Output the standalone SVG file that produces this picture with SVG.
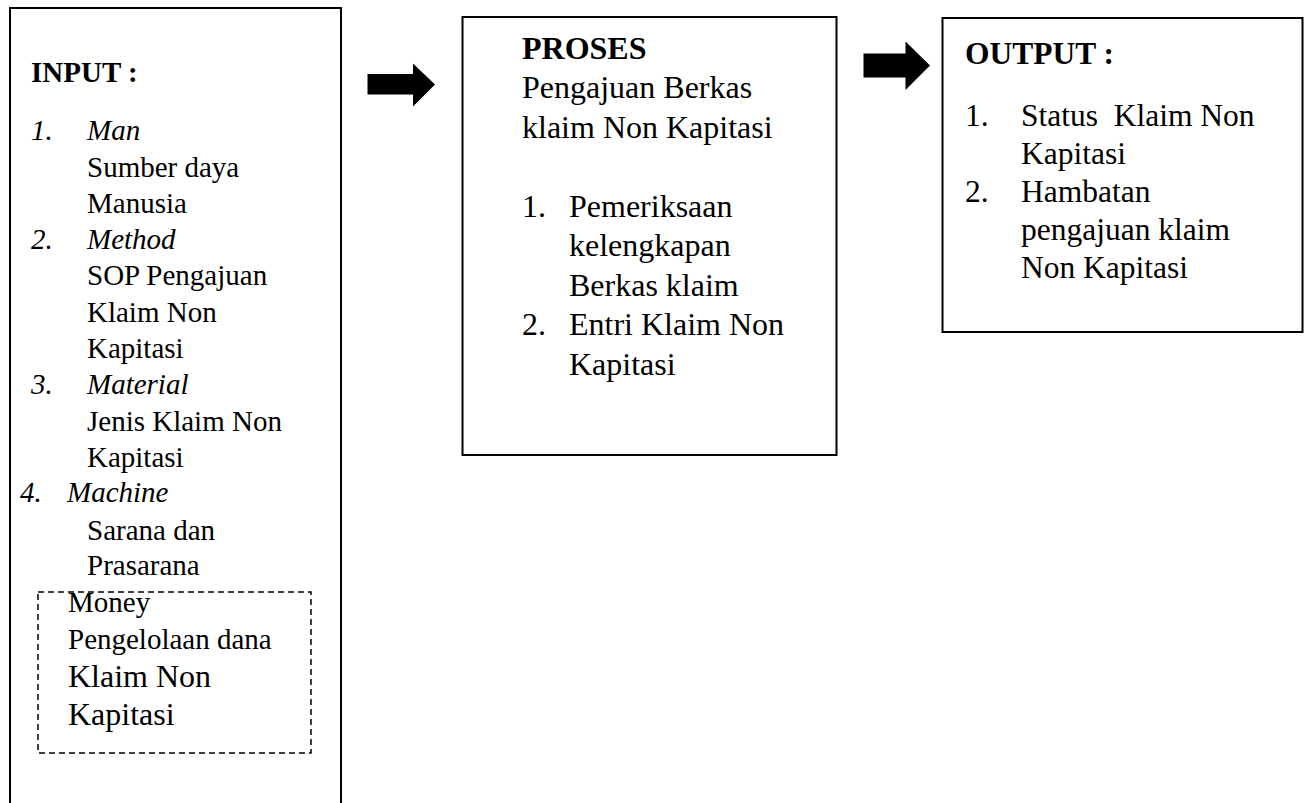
<svg xmlns="http://www.w3.org/2000/svg" width="1308" height="803" viewBox="0 0 1308 803">
<style>
text{font-family:"Liberation Serif","Times New Roman",serif;fill:#000;white-space:pre}
.s{font-size:29px}
.m{font-size:32px}
.o{font-size:31.5px}
.b{font-weight:bold}
.i{font-style:italic}
.box{fill:none;stroke:#000;stroke-width:2}
.dash{fill:none;stroke:#000;stroke-width:1.5;stroke-dasharray:6 4}
.arr{fill:#000;stroke:none}
</style>
<rect width="1308" height="803" fill="#fff"/>
<g id="input">
<path class="box" d="M10,810 V8 H341 V810"/>
<text class="s b" x="31" y="82">INPUT :</text>
<text class="s i" x="31" y="140">1.</text>
<text class="s i" x="87" y="140">Man</text>
<text class="s" x="87" y="176.5">Sumber daya</text>
<text class="s" x="87" y="212.5">Manusia</text>
<text class="s i" x="31" y="248.5">2.</text>
<text class="s i" x="87" y="248.5">Method</text>
<text class="s" x="87" y="285">SOP Pengajuan</text>
<text class="s" x="87" y="321.5">Klaim Non</text>
<text class="s" x="87" y="358">Kapitasi</text>
<text class="s i" x="31" y="394">3.</text>
<text class="s i" x="87" y="394">Material</text>
<text class="s" x="87" y="431">Jenis Klaim Non</text>
<text class="s" x="87" y="466.5">Kapitasi</text>
<text class="s i" x="20" y="502">4.</text>
<text class="s i" x="67" y="502">Machine</text>
<text class="s" x="87" y="540">Sarana dan</text>
<text class="s" x="87" y="575">Prasarana</text>
</g>
<g id="money">
<rect class="dash" x="38" y="592" width="273" height="161"/>
<text class="s" x="68" y="612">Money</text>
<text class="s" x="68" y="649">Pengelolaan dana</text>
<text class="m" x="68" y="687">Klaim Non</text>
<text class="m" x="68" y="725">Kapitasi</text>
</g>
<g id="proses">
<rect class="box" x="462.5" y="17" width="374" height="438"/>
<text class="m b" x="522" y="58.5">PROSES</text>
<text class="m" x="522" y="98">Pengajuan Berkas</text>
<text class="m" x="522" y="137.5">klaim Non Kapitasi</text>
<text class="m" x="522" y="216.5">1.</text>
<text class="m" x="569" y="216.5">Pemeriksaan</text>
<text class="m" x="569" y="256">kelengkapan</text>
<text class="m" x="569" y="295.5">Berkas klaim</text>
<text class="m" x="522" y="335">2.</text>
<text class="m" x="569" y="335">Entri Klaim Non</text>
<text class="m" x="569" y="374.5">Kapitasi</text>
</g>
<g id="output">
<rect class="box" x="942.5" y="18" width="360" height="314"/>
<text class="o b" x="965" y="63.5">OUTPUT :</text>
<text class="o" x="965" y="126">1.</text>
<text class="o" x="1021" y="126">Status  Klaim Non</text>
<text class="o" x="1021" y="164">Kapitasi</text>
<text class="o" x="965" y="202">2.</text>
<text class="o" x="1021" y="202">Hambatan</text>
<text class="o" x="1021" y="240">pengajuan klaim</text>
<text class="o" x="1021" y="278">Non Kapitasi</text>
</g>
<g id="connectors">
<polygon class="arr" points="367.5,74 413,74 413,63.5 435,84.5 413,106.5 413,94.5 367.5,94.5"/>
<polygon class="arr" points="863.5,53.5 905.5,53.5 905.5,41.5 930,65.5 905.5,90 905.5,77.5 863.5,77.5"/>
</g>
</svg>
